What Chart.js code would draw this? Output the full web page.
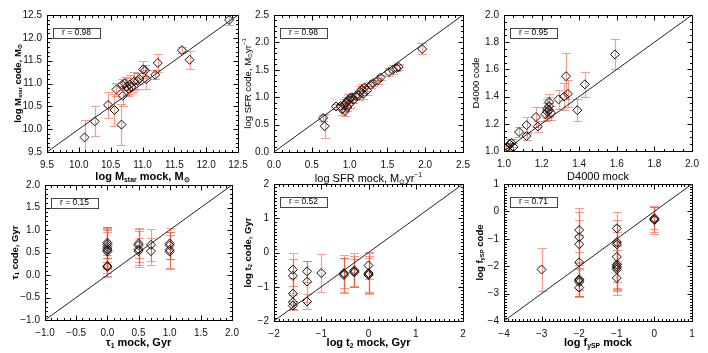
<!DOCTYPE html>
<html>
<head>
<meta charset="utf-8">
<script src="https://cdn.jsdelivr.net/npm/chart.js@4.4.1/dist/chart.umd.min.js"></script>
<style>
  body { margin: 0; background: #fff; }
  #wrap { position: relative; width: 708px; height: 353px; overflow: hidden; }
  canvas { position: absolute; }
</style>
</head>
<body>
<div id="wrap">
  <canvas id="c1" width="250" height="190" style="left:0;top:0"></canvas>
  <canvas id="c2" width="240" height="190" style="left:236px;top:0"></canvas>
  <canvas id="c3" width="238" height="190" style="left:470px;top:0"></canvas>
  <canvas id="c4" width="250" height="183" style="left:0;top:170px"></canvas>
  <canvas id="c5" width="240" height="183" style="left:236px;top:170px"></canvas>
  <canvas id="c6" width="238" height="183" style="left:470px;top:170px"></canvas>
</div>
<script>
// ---- data ----
const rValues = ['0.98', '0.98', '0.95', '0.15', '0.52', '0.71'];

// log Mstar
const mstarMock = [10.09, 10.25, 10.46, 10.56, 10.59, 10.67, 10.69, 10.68, 10.72, 10.75, 10.78, 10.80, 10.83, 10.87, 10.92, 10.95, 11.01, 11.04, 11.06, 11.20, 11.24, 11.62, 11.74, 12.36];
const mstarCode = [9.82, 10.17, 10.53, 10.42, 10.87, 10.10, 10.73, 10.97, 11.00, 10.93, 10.88, 10.98, 10.92, 11.05, 11.06, 11.10, 11.31, 11.29, 11.09, 11.19, 11.45, 11.73, 11.52, 12.39];
const mstarErr  = [0.38, 0.33, 0.29, 0.35, 0.15, 0.45, 0.22, 0.12, 0.15, 0.18, 0.15, 0.20, 0.10, 0.20, 0.18, 0.12, 0.18, 0.12, 0.20, 0.10, 0.20, 0.06, 0.20, 0.10];

// log SFR
const sfrMock = [0.65, 0.67, 0.82, 0.88, 0.90, 0.93, 0.94, 0.95, 0.97, 0.98, 1.00, 1.01, 1.03, 1.05, 1.08, 1.12, 1.14, 1.16, 1.18, 1.20, 1.23, 1.28, 1.31, 1.37, 1.41, 1.52, 1.57, 1.62, 1.65, 1.96];
const sfrCode = [0.62, 0.47, 0.83, 0.84, 0.78, 0.85, 0.75, 0.90, 0.82, 0.95, 0.88, 0.98, 1.00, 0.95, 1.02, 1.03, 1.10, 1.14, 1.06, 1.18, 1.12, 1.22, 1.26, 1.30, 1.36, 1.46, 1.50, 1.53, 1.55, 1.88];
const sfrErr  = [0.06, 0.22, 0.05, 0.06, 0.10, 0.12, 0.10, 0.10, 0.08, 0.10, 0.08, 0.06, 0.08, 0.06, 0.06, 0.08, 0.10, 0.10, 0.10, 0.06, 0.08, 0.05, 0.05, 0.05, 0.05, 0.08, 0.08, 0.06, 0.05, 0.10];

// D4000
const d4Mock = [1.01, 1.02, 1.03, 1.04, 1.05, 1.08, 1.12, 1.12, 1.17, 1.18, 1.22, 1.23, 1.23, 1.24, 1.24, 1.24, 1.25, 1.29, 1.32, 1.33, 1.34, 1.39, 1.43, 1.59];
const d4Code = [1.02, 1.03, 1.05, 1.06, 1.03, 1.14, 1.19, 1.11, 1.25, 1.18, 1.27, 1.29, 1.31, 1.33, 1.30, 1.36, 1.28, 1.38, 1.40, 1.55, 1.42, 1.30, 1.49, 1.71];
const d4Err  = [0.02, 0.03, 0.04, 0.03, 0.03, 0.04, 0.06, 0.03, 0.07, 0.04, 0.05, 0.06, 0.07, 0.07, 0.05, 0.06, 0.05, 0.07, 0.10, 0.17, 0.10, 0.08, 0.09, 0.11];

// tau1
const tau1Mock = [0, 0, 0, 0, 0, 0, 0, 0, 0.5, 0.5, 0.5, 0.5, 0.7, 0.7, 1.0, 1.0, 1.0, 1.0];
const tau1Code = [0.72, 0.68, 0.63, 0.58, 0.55, 0.52, 0.20, 0.18, 0.70, 0.66, 0.57, 0.53, 0.67, 0.53, 0.70, 0.66, 0.56, 0.52];
const tau1Err  = [0.35, 0.38, 0.42, 0.45, 0.40, 0.47, 0.25, 0.20, 0.33, 0.38, 0.40, 0.30, 0.35, 0.30, 0.35, 0.30, 0.40, 0.38];

// log t2
const t2Mock = [-1.6, -1.6, -1.6, -1.6, -1.6, -1.3, -1.3, -1.3, -1.0, -0.52, -0.52, -0.52, -0.3, -0.3, -0.3, 0, 0, 0, 0];
const t2Code = [-0.50, -0.68, -1.20, -1.45, -1.55, -0.55, -0.85, -1.43, -0.60, -0.62, -0.66, -0.60, -0.52, -0.56, -0.58, -0.38, -0.60, -0.64, -0.66];
const t2Err  = [0.48, 0.50, 0.45, 0.20, 0.12, 0.30, 0.60, 0.22, 0.55, 0.55, 0.50, 0.45, 0.50, 0.45, 0.40, 0.40, 0.60, 0.55, 0.50];

// log fySP
const fyspMock = [-3, -2, -2, -2, -2, -2, -2, -2, -2, -1, -1, -1, -1, -1, -1, -1, -1, -1, 0, 0, 0];
const fyspCode = [-2.12, -0.68, -0.94, -1.20, -1.86, -2.48, -2.52, -2.58, -2.78, -0.62, -1.12, -1.20, -1.66, -1.94, -2.00, -2.06, -2.12, -2.43, -0.29, -0.25, -0.32];
const fyspErr  = [0.78, 0.80, 0.90, 0.90, 1.00, 0.60, 0.55, 0.50, 0.35, 0.60, 0.80, 0.70, 0.90, 0.85, 0.90, 0.80, 0.70, 0.62, 0.45, 0.40, 0.50];

// tick labels
const mstarTicks = [9.5, 10.0, 10.5, 11.0, 11.5, 12.0, 12.5];
const sfrTicks = [0.0, 0.5, 1.0, 1.5, 2.0, 2.5];
const d4Ticks = [1.0, 1.2, 1.4, 1.6, 1.8, 2.0];
const tau1Ticks = [-1.0, -0.5, 0.0, 0.5, 1.0, 1.5, 2.0];
const t2Ticks = [-2, -1, 0, 1, 2];
const fyspTicks = [-4, -3, -2, -1, 0, 1];

// ---- panels ----
const panels = [
  { id: 'c1', mock: mstarMock, code: mstarCode, err: mstarErr, ticks: mstarTicks, minor: 0.1, dec: 1, r: rValues[0],
    xTitle: 'log M_{star} mock, M_{⊙}', yTitle: 'log M_{star} code, M_{⊙}', bold: true,
    yw: 47, xh: 38, padTop: 15, padRight: 12, xtOff: 25, ytOff: 29 },
  { id: 'c2', mock: sfrMock, code: sfrCode, err: sfrErr, ticks: sfrTicks, minor: 0.1, dec: 1, r: rValues[1],
    xTitle: 'log SFR mock, M_{⊙}yr^{−1}', yTitle: 'log SFR code, M_{⊙}yr^{−1}', bold: false,
    yw: 38, xh: 38, padTop: 15, padRight: 13, xtOff: 27, ytOff: 26 },
  { id: 'c3', mock: d4Mock, code: d4Code, err: d4Err, ticks: d4Ticks, minor: 0.05, dec: 1, r: rValues[2],
    xTitle: 'D4000 mock', yTitle: 'D4000 code', bold: false,
    yw: 34, xh: 39, padTop: 15, padRight: 16, xtOff: 26, ytOff: 28 },
  { id: 'c4', mock: tau1Mock, code: tau1Code, err: tau1Err, ticks: tau1Ticks, minor: 0.1, dec: 1, r: rValues[3],
    xTitle: 'τ_{1} mock, Gyr', yTitle: 'τ_{1} code, Gyr', bold: true,
    yw: 45, xh: 33, padTop: 15, padRight: 18, xtOff: 23, ytOff: 30 },
  { id: 'c5', mock: t2Mock, code: t2Code, err: t2Err, ticks: t2Ticks, minor: 0.1, dec: 0, r: rValues[4],
    xTitle: 'log t_{2} mock, Gyr', yTitle: 'log t_{2} code, Gyr', bold: true,
    yw: 38, xh: 32, padTop: 14, padRight: 13, xtOff: 22, ytOff: 26 },
  { id: 'c6', mock: fyspMock, code: fyspCode, err: fyspErr, ticks: fyspTicks, minor: 0.1, dec: 0, r: rValues[5],
    xTitle: 'log f_{ySP} mock', yTitle: 'log f_{ySP} code', bold: true,
    yw: 34, xh: 32, padTop: 14, padRight: 16, xtOff: 22, ytOff: 24 }
];

const FONT = '"Liberation Sans", Arial, sans-serif';

function fmt(v, dec) {
  const s = Math.abs(v).toFixed(dec);
  return (v < -1e-9 ? '−' : '') + s;
}

// text with _{sub} and ^{sup}
function drawRich(ctx, str, x, y, size, bold, rot) {
  const parts = [];
  const re = /([_^])\{([^}]*)\}|([^_^]+)/g;
  let m;
  while ((m = re.exec(str))) {
    if (m[3]) parts.push({ t: m[3], k: 0 });
    else parts.push({ t: m[2], k: m[1] === '_' ? 1 : 2 });
  }
  const w = bold ? 'bold ' : '';
  let total = 0;
  parts.forEach(p => {
    p.size = p.k ? size * 0.62 : size;
    ctx.font = w + p.size + 'px ' + FONT;
    p.w = ctx.measureText(p.t).width;
    total += p.w;
  });
  ctx.save();
  ctx.translate(x, y);
  if (rot) ctx.rotate(-Math.PI / 2);
  ctx.fillStyle = '#000';
  ctx.textBaseline = 'middle';
  ctx.textAlign = 'left';
  let cx = -total / 2;
  parts.forEach(p => {
    ctx.font = w + p.size + 'px ' + FONT;
    const dy = p.k === 1 ? size * 0.3 : p.k === 2 ? -size * 0.35 : 0;
    ctx.fillText(p.t, cx, dy);
    cx += p.w;
  });
  ctx.restore();
}

const deco = {
  id: 'deco',
  beforeDatasetsDraw(chart) {
    const { ctx, chartArea: a, scales: { x, y } } = chart;
    ctx.save();
    ctx.beginPath();
    ctx.rect(a.left, a.top, a.right - a.left, a.bottom - a.top);
    ctx.clip();
    ctx.strokeStyle = 'rgba(236, 78, 48, 0.55)';
    ctx.lineWidth = 1.2;
    chart.data.datasets.forEach(ds => {
      if (!ds.yErr) return;
      ds.data.forEach((p, i) => {
        const px = Math.round(x.getPixelForValue(p.x)) + 0.5;
        const top = Math.round(y.getPixelForValue(p.y + ds.yErr[i])) + 0.5;
        const bot = Math.round(y.getPixelForValue(p.y - ds.yErr[i])) + 0.5;
        ctx.beginPath();
        ctx.moveTo(px, top); ctx.lineTo(px, bot);
        ctx.moveTo(px - 4.5, top); ctx.lineTo(px + 4.5, top);
        ctx.moveTo(px - 4.5, bot); ctx.lineTo(px + 4.5, bot);
        ctx.stroke();
      });
    });
    ctx.restore();
  },
  afterDraw(chart, args, o) {
    const { ctx, chartArea: a, scales: { x, y } } = chart;
    ctx.save();
    ctx.strokeStyle = '#000';
    ctx.lineWidth = 1;
    const L = Math.round(a.left) + 0.5, R = Math.round(a.right) + 0.5;
    const T = Math.round(a.top) + 0.5, B = Math.round(a.bottom) + 0.5;
    ctx.strokeRect(L, T, R - L, B - T);
    const lo = o.ticks[0], hi = o.ticks[o.ticks.length - 1];
    const n = Math.round((hi - lo) / o.minor);
    ctx.beginPath();
    for (let k = 0; k <= n; k++) {
      const v = lo + k * o.minor;
      const major = o.ticks.some(t => Math.abs(t - v) < 1e-6);
      const len = major ? 5 : 2.5;
      const px = Math.round(x.getPixelForValue(v)) + 0.5;
      const py = Math.round(y.getPixelForValue(v)) + 0.5;
      ctx.moveTo(px, B); ctx.lineTo(px, B - len);
      ctx.moveTo(px, T); ctx.lineTo(px, T + len);
      ctx.moveTo(L, py); ctx.lineTo(L + len, py);
      ctx.moveTo(R, py); ctx.lineTo(R - len, py);
    }
    ctx.stroke();

    // r box
    const bx = L + 5, by = T + 12;
    ctx.strokeStyle = '#444';
    ctx.strokeRect(Math.round(bx) + 0.5, Math.round(by) + 0.5, 47, 10);
    ctx.fillStyle = '#000';
    ctx.font = '8.5px ' + FONT;
    ctx.textAlign = 'center';
    ctx.textBaseline = 'middle';
    ctx.fillText('r = ' + o.r, bx + 24, by + 5.5);
    ctx.restore();

    drawRich(ctx, o.xTitle, (a.left + a.right) / 2, a.bottom + o.xtOff, 11, o.bold, false);
    drawRich(ctx, o.yTitle, a.left - o.ytOff, (a.top + a.bottom) / 2, 9.5, o.bold, true);
  }
};

panels.forEach(p => {
  const lo = p.ticks[0], hi = p.ticks[p.ticks.length - 1];
  const pts = p.mock.map((v, i) => ({ x: v, y: p.code[i] }));
  const axis = (isX) => ({
    type: 'linear',
    min: lo,
    max: hi,
    grid: { display: false, drawTicks: false },
    border: { display: false },
    ticks: {
      autoSkip: false,
      maxRotation: 0,
      padding: isX ? 7 : 5,
      color: '#111',
      font: { family: FONT, size: 10 },
      callback: v => fmt(v, p.dec)
    },
    afterBuildTicks: s => { s.ticks = p.ticks.map(v => ({ value: v })); },
    afterFit: s => {
      if (isX) s.height = p.xh; else s.width = p.yw;
      s.paddingLeft = 0; s.paddingRight = 0; s.paddingTop = 0; s.paddingBottom = 0;
    }
  });
  new Chart(document.getElementById(p.id), {
    type: 'scatter',
    data: {
      datasets: [
        {
          data: [{ x: lo, y: lo }, { x: hi, y: hi }],
          showLine: true,
          borderColor: '#222',
          borderWidth: 1,
          pointRadius: 0
        },
        {
          data: pts,
          yErr: p.err,
          pointStyle: 'rectRot',
          pointRadius: 4.5,
          borderColor: '#111',
          borderWidth: 1,
          backgroundColor: 'rgba(0,0,0,0)'
        }
      ]
    },
    options: {
      responsive: false,
      animation: false,
      layout: { padding: { top: p.padTop, right: p.padRight, left: 0, bottom: 0 } },
      plugins: {
        legend: { display: false },
        tooltip: { enabled: false },
        deco: { ticks: p.ticks, minor: p.minor, r: p.r, xTitle: p.xTitle, yTitle: p.yTitle,
                bold: p.bold, xtOff: p.xtOff, ytOff: p.ytOff }
      },
      scales: { x: axis(true), y: axis(false) }
    },
    plugins: [deco]
  });
});
</script>
</body>
</html>
